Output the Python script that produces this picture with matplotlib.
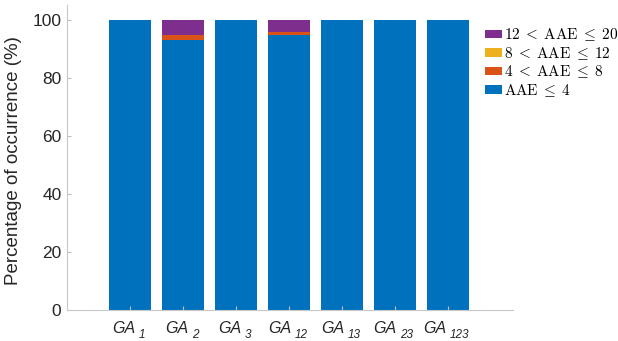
import numpy as np
import matplotlib
matplotlib.use('Agg')
import matplotlib.pyplot as plt

plt.rcParams['font.family'] = ['Liberation Sans', 'DejaVu Sans']
plt.rcParams['mathtext.fontset'] = 'cm'

#=================================================================================#

groups = ['1', '2', '3', '12', '13', '23', '123']
aae_le4 = [100.0, 93.3, 100.0, 94.8, 100.0, 100.0, 100.0]
aae_4_8 = [0.0, 1.5, 0.0, 1.1, 0.0, 0.0, 0.0]
aae_8_12 = [0.0, 0.0, 0.0, 0.0, 0.0, 0.0, 0.0]
aae_12_20 = [0.0, 5.2, 0.0, 4.1, 0.0, 0.0, 0.0]

labels = [r'$\mathrm{AAE} \;\leq\; 4$', r'$4 \;<\; \mathrm{AAE} \;\leq\; 8$',
          r'$8 \;<\; \mathrm{AAE} \;\leq\; 12$', r'$12 \;<\; \mathrm{AAE} \;\leq\; 20$']
colors = ['#0072BD', '#D95319', '#EDB120', '#7E2F8E']
txt = '#262626'

#=================================================================================#

fig = plt.figure(figsize=(6.18, 3.41), dpi=100)
ax = fig.add_axes([0.1084, 0.0909, 0.7217, 0.894])

x = np.arange(1, len(groups) + 1)
bottom = np.zeros(len(groups))
handles = []
for vals, lab, c in zip([aae_le4, aae_4_8, aae_8_12, aae_12_20], labels, colors):
    b = ax.bar(x, vals, 0.8, bottom=bottom, color=c, label=lab, edgecolor='none')
    handles.append(b)
    bottom = bottom + np.array(vals)

ax.set_xlim(-0.19, 8.23)
ax.set_ylim(0, 105.2)
ax.set_yticks([0, 20, 40, 60, 80, 100])
ax.set_xticks(x)
ax.set_xticklabels([])
ax.tick_params(axis='y', labelsize=12.5, pad=4)
ax.tick_params(direction='in', color='#bfbfbf', length=3, labelcolor=txt)
ax.set_ylabel('Percentage of occurrence (%)', fontsize=13.5, color=txt)
ax.yaxis.set_label_coords(-0.1, 0.49)

for s in ['top', 'right']:
    ax.spines[s].set_visible(False)
for s in ['left', 'bottom']:
    ax.spines[s].set_color('#c8c8c8')

# tick labels GA with a lowered subscript
xtr = ax.get_xaxis_transform()
y1, y2 = -8.0, -14.0
pairs = []
for xi, g in zip(x, groups):
    t1 = ax.annotate('GA', (xi, 0), xycoords=xtr, xytext=(0, y1),
                     textcoords='offset points', ha='left', va='top',
                     style='italic', fontsize=11.5, color=txt)
    t2 = ax.annotate(g, (xi, 0), xycoords=xtr, xytext=(0, y2),
                     textcoords='offset points', ha='left', va='top',
                     style='italic', fontsize=8.5, color=txt)
    pairs.append((t1, t2))

fig.canvas.draw()
r = fig.canvas.get_renderer()
gap = 2.5
for t1, t2 in pairs:
    w1 = t1.get_window_extent(r).width * 72 / fig.dpi
    w2 = t2.get_window_extent(r).width * 72 / fig.dpi
    start = -(w1 + gap + w2) / 2 - 1
    t1.set_position((start, y1))
    t2.set_position((start + w1 + gap, y2))

#=================================================================================#

leg = fig.legend(handles[::-1], labels[::-1], loc='upper left',
                 bbox_to_anchor=(0.772, 0.945), frameon=False, borderpad=0,
                 fontsize=11, handlelength=1.15, handleheight=0.45,
                 handletextpad=0.1, labelspacing=0.1)

fig.savefig('out.png', dpi=100)
